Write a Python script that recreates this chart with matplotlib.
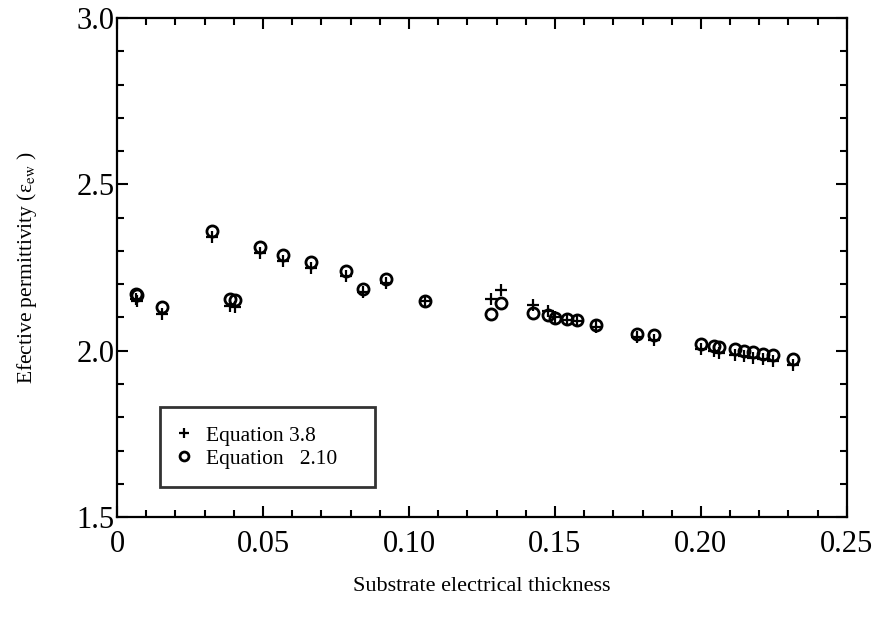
import numpy as np
import matplotlib.pyplot as plt
from matplotlib.ticker import MultipleLocator

plt.rcParams['font.family'] = ['Liberation Serif', 'DejaVu Serif']
plt.rcParams['mathtext.fontset'] = 'stix'

# Datos
x = [0.0065, 0.0070, 0.0153, 0.0324, 0.0387, 0.0404, 0.0490, 0.0570,
     0.0664, 0.0784, 0.0844, 0.0920, 0.1055, 0.1280, 0.1314, 0.1424,
     0.1475, 0.1500, 0.1540, 0.1574, 0.1640, 0.1780, 0.1840, 0.2000,
     0.2045, 0.2063, 0.2116, 0.2147, 0.2180, 0.2211, 0.2248, 0.2314]

eq_210 = [2.170, 2.166, 2.132, 2.360, 2.156, 2.153, 2.313, 2.288,
          2.266, 2.241, 2.186, 2.215, 2.150, 2.110, 2.143, 2.113,
          2.108, 2.098, 2.096, 2.093, 2.078, 2.051, 2.046, 2.021,
          2.015, 2.011, 2.005, 2.000, 1.995, 1.991, 1.988, 1.975]

eq_38 = [2.155, 2.150, 2.111, 2.343, 2.135, 2.130, 2.294, 2.270,
         2.250, 2.225, 2.178, 2.205, 2.148, 2.156, 2.183, 2.136,
         2.120, 2.100, 2.092, 2.088, 2.070, 2.040, 2.033, 2.005,
         1.998, 1.992, 1.988, 1.984, 1.978, 1.975, 1.970, 1.958]

xticks = [0, 0.05, 0.10, 0.15, 0.20, 0.25]
xtick_labels = ['0', '0.05', '0.10', '0.15', '0.20', '0.25']
yticks = [1.5, 2.0, 2.5, 3.0]
ytick_labels = ['1.5', '2.0', '2.5', '3.0']

fig = plt.figure(figsize=(8.84, 6.26), dpi=100)
ax = fig.add_axes([0.1324, 0.174, 0.8256, 0.7972])

ax.plot(x, eq_38, '+', color='black', ms=9, mew=1.6, label='Equation 3.8')
ax.plot(x, eq_210, 'o', mfc='none', mec='black', ms=8, mew=2.0,
        label='Equation   2.10')

ax.set_xlim(0, 0.25)
ax.set_ylim(1.5, 3.0)
ax.xaxis.set_minor_locator(MultipleLocator(0.01))
ax.yaxis.set_minor_locator(MultipleLocator(0.1))
ax.set_xticks(xticks)
ax.set_xticklabels(xtick_labels)
ax.set_yticks(yticks)
ax.set_yticklabels(ytick_labels)

ax.tick_params(which='both', direction='in', top=True, right=True,
               labelsize=22, width=1.5)
ax.tick_params(which='major', length=8)
ax.tick_params(which='minor', length=5)
ax.tick_params(axis='x', which='major', pad=9)
ax.tick_params(axis='y', which='major', pad=2)
for s in ax.spines.values():
    s.set_linewidth(1.6)

ax.set_xlabel('Substrate electrical thickness', fontsize=16, labelpad=13)
ax.set_ylabel(r'Efective permittivity (ε$_{\mathrm{ew}}$ )', fontsize=15.5,
              labelpad=27)

leg = ax.legend(loc='lower left', bbox_to_anchor=(0.059, 0.06, 0.2945, 0.16),
                mode='expand', borderaxespad=0, fontsize=15.5, frameon=True,
                fancybox=False, edgecolor='black', handletextpad=0.8,
                borderpad=0.85, labelspacing=0.15, handlelength=0.5,
                markerscale=0.8)
leg.get_frame().set_linewidth(2.0)

fig.savefig('out.png', dpi=100)
